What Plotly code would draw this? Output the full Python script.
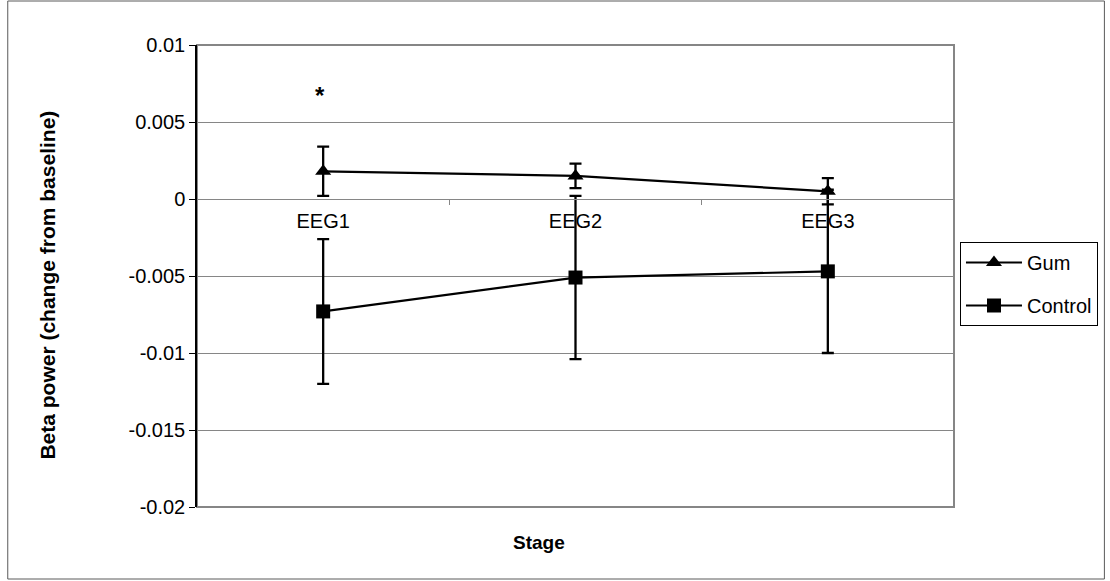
import plotly.graph_objects as go

# Recording stages and group means (change from baseline) with SE bars
stages = ["EEG1", "EEG2", "EEG3"]
gum_mean = [0.0018, 0.0015, 0.0005]
gum_err = [0.0016, 0.0008, 0.00085]
control_mean = [-0.0073, -0.0051, -0.0047]
control_err = [0.0047, 0.0053, 0.0053]

y_ticks = [0.01, 0.005, 0, -0.005, -0.01, -0.015, -0.02]
y_tick_text = ["0.01", "0.005", "0", "-0.005", "-0.01", "-0.015", "-0.02"]

FONT = "Liberation Sans, Arial, sans-serif"
GRID = "#868686"

fig = go.Figure()

fig.add_trace(go.Scatter(
    x=stages, y=gum_mean, name="Gum", mode="lines+markers",
    legendgroup="gum",
    line=dict(color="black", width=2.2),
    marker=dict(symbol="triangle-up", size=14, color="black"),
    error_y=dict(type="data", array=gum_err, visible=True,
                 color="black", thickness=2.3, width=6),
))
fig.add_trace(go.Scatter(
    x=stages, y=control_mean, name="Control", mode="lines+markers",
    legendgroup="control",
    line=dict(color="black", width=2.2),
    marker=dict(symbol="square", size=14, color="black"),
    error_y=dict(type="data", array=control_err, visible=True,
                 color="black", thickness=2.3, width=6),
))

# Significance marker above EEG1
fig.add_annotation(x="EEG1", y=0.0067, text="<b>*</b>", showarrow=False,
                   xshift=-3, font=dict(family=FONT, size=24, color="black"))

# Axis titles
fig.add_annotation(xref="paper", yref="paper", x=(540 - 197) / 760, y=(507 - 542) / 462,
                   xanchor="center", yanchor="middle",
                   text="<b>Stage</b>", showarrow=False,
                   font=dict(family=FONT, size=19, color="black"))
fig.add_annotation(xref="paper", yref="paper", x=(46 - 197) / 760, y=(507 - 285) / 462,
                   xanchor="center", yanchor="middle",
                   text="<b>Beta power (change from baseline)</b>", showarrow=False,
                   textangle=-90, font=dict(family=FONT, size=21, color="black"))

# Plot-area frame (right/bottom/top in grey) and outer chart border
fig.add_shape(type="rect", xref="paper", yref="paper", x0=0, x1=1, y0=0, y1=1,
              line=dict(color=GRID, width=2), layer="below")
fig.add_shape(type="rect", xref="paper", yref="paper",
              x0=(7 - 197) / 760, x1=(1108 - 197) / 760,
              y0=(507 - 579) / 462, y1=(507 - 1) / 462,
              line=dict(color="#5a5a5a", width=1))

fig.update_layout(
    width=1110, height=581,
    margin=dict(l=197, r=153, t=45, b=74),
    paper_bgcolor="white", plot_bgcolor="white",
    font=dict(family=FONT, size=20, color="black"),
    showlegend=True,
    legend=dict(
        x=(963 - 197) / 760, xanchor="left",
        y=(507 - 242) / 462, yanchor="top",
        bordercolor="black", borderwidth=1, bgcolor="white",
        font=dict(family=FONT, size=20, color="black"),
        itemwidth=56, tracegroupgap=14,
    ),
    xaxis=dict(
        type="category", range=[-0.5, 2.5],
        anchor="free", position=2 / 3,
        showline=True, linecolor=GRID, linewidth=1,
        ticks="outside", ticklen=5, tickcolor=GRID, tickson="boundaries",
        showgrid=False, zeroline=False,
        ticklabelstandoff=4,
        tickfont=dict(family=FONT, size=20, color="black"),
    ),
    yaxis=dict(
        range=[-0.02, 0.01],
        tickvals=y_ticks, ticktext=y_tick_text,
        showline=True, linecolor="black", linewidth=1.5,
        ticks="outside", ticklen=6, tickcolor="black",
        showgrid=True, gridcolor=GRID, gridwidth=1,
        zeroline=False,
        tickfont=dict(family=FONT, size=20, color="black"),
    ),
)

fig.write_html("out.html")
